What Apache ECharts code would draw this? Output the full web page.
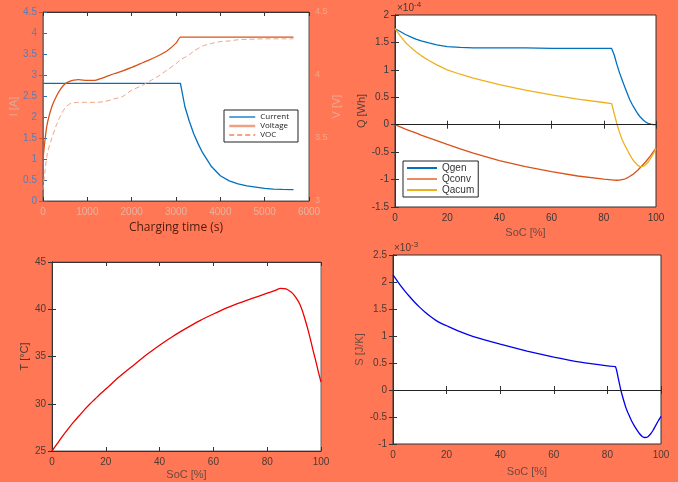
<!DOCTYPE html>
<html><head><meta charset="utf-8">
<script src="https://cdn.jsdelivr.net/npm/echarts@6/dist/echarts.min.js"></script>
<style>html,body{margin:0;padding:0;background:#FF7755;}#c{width:678px;height:482px;}</style>
</head><body><div id="c"></div>
<script>
// ---- Top-left: charging profile ----
const timeS   = [0,50,100,200,300,400,500,600,700,800,1000,1200,1400,1600,1800,2000,2200,2400,2600,2800,3000,3100,3200,3300,3400,3500,3600,3800,4000,4200,4400,4600,4800,5000,5200,5400,5650];
const current = [2.8,2.8,2.8,2.8,2.8,2.8,2.8,2.8,2.8,2.8,2.8,2.8,2.8,2.8,2.8,2.8,2.8,2.8,2.8,2.8,2.8,2.8,2.25,1.9,1.6,1.36,1.15,0.82,0.6,0.48,0.41,0.36,0.33,0.3,0.285,0.275,0.27];
const voltage = [3.33,3.5,3.62,3.75,3.83,3.89,3.93,3.95,3.96,3.963,3.957,3.96,3.983,4.01,4.033,4.06,4.09,4.12,4.153,4.193,4.253,4.3,4.3,4.3,4.3,4.3,4.3,4.3,4.3,4.3,4.3,4.3,4.3,4.3,4.3,4.3,4.3];
const voc     = [3.09,3.25,3.38,3.5,3.6,3.68,3.74,3.77,3.78,3.783,3.783,3.783,3.79,3.81,3.83,3.88,3.91,3.95,3.99,4.04,4.09,4.12,4.14,4.16,4.19,4.21,4.23,4.25,4.265,4.27,4.28,4.283,4.285,4.287,4.287,4.287,4.287];

// ---- Top-right: heat (x1e-4 Wh) ----
const socQ  = [0,2,4,6,8,10,13,16,20,25,30,40,50,60,70,80,83,84,85,86,87,88,89,90,91,92,93,94,95,96,97,98,99,100];
const qgen  = [1.75,1.70,1.645,1.60,1.56,1.53,1.49,1.455,1.425,1.41,1.40,1.40,1.40,1.39,1.39,1.39,1.39,1.27,1.1,0.95,0.82,0.69,0.57,0.45,0.36,0.28,0.2,0.14,0.09,0.05,0.025,0.01,0.003,0];
const qconv = [0,-0.04,-0.08,-0.115,-0.15,-0.19,-0.24,-0.29,-0.36,-0.44,-0.52,-0.655,-0.765,-0.855,-0.935,-0.99,-1.005,-1.01,-1.012,-1.01,-1.0,-0.99,-0.97,-0.94,-0.91,-0.87,-0.83,-0.78,-0.73,-0.68,-0.62,-0.56,-0.49,-0.42];
const qacum = [1.75,1.62,1.5,1.41,1.33,1.26,1.17,1.09,1.0,0.92,0.85,0.73,0.63,0.545,0.465,0.405,0.385,0.2,0.02,-0.14,-0.27,-0.37,-0.46,-0.55,-0.63,-0.69,-0.74,-0.765,-0.76,-0.73,-0.68,-0.61,-0.53,-0.43];

// ---- Bottom-left: temperature ----
const socT = [0,2,4,6,8,10,12,14,16,18,20,25,30,35,40,45,50,55,60,65,70,75,80,83,85,87,89,90,91,92,93,94,95,96,97,98,99,100];
const temp = [25,25.8,26.6,27.35,28.05,28.7,29.35,29.95,30.5,31.05,31.55,32.85,34.0,35.15,36.2,37.15,38.0,38.8,39.5,40.15,40.7,41.2,41.7,42.0,42.2,42.15,41.8,41.5,41.1,40.6,39.9,39.0,38.0,36.9,35.7,34.6,33.4,32.3];

// ---- Bottom-right: entropy (x1e-3 J/K) ----
const socS = [0,2,4,6,8,10,12,14,16,18,20,25,30,40,50,60,70,80,83,84,85,86,87,88,89,90,91,92,93,94,95,96,97,98,99,100];
const sEnt = [2.13,1.99,1.86,1.74,1.63,1.53,1.44,1.36,1.29,1.235,1.19,1.08,0.99,0.85,0.72,0.61,0.515,0.445,0.43,0.23,0.0,-0.18,-0.34,-0.46,-0.57,-0.66,-0.74,-0.81,-0.86,-0.88,-0.87,-0.82,-0.75,-0.66,-0.57,-0.49];

const zip = (xs, ys) => xs.map((x, i) => [x, ys[i]]);
const FONT = 'Liberation Sans';
const plain = v => String(v);

function baseX(grid, min, max, interval, color, name, gap, nameStyle) {
  return {type:'value', gridIndex:grid, min, max, interval,
    name, nameLocation:'middle', nameGap:gap,
    nameTextStyle: Object.assign({color:color, fontFamily:FONT, fontSize:11}, nameStyle||{}),
    axisLine:{show:true, lineStyle:{color:'#333'}},
    axisTick:{show:true, inside:true, length:4, lineStyle:{color:'#333'}},
    axisLabel:{color:color, fontFamily:FONT, fontSize:10, margin:6, formatter:plain},
    splitLine:{show:false}};
}
function baseY(grid, min, max, interval, color, name, gap) {
  return {type:'value', gridIndex:grid, min, max, interval,
    name, nameLocation:'middle', nameGap:gap,
    nameTextStyle:{color:color, fontFamily:FONT, fontSize:11},
    axisLine:{show:true, lineStyle:{color:'#333'}},
    axisTick:{show:true, inside:true, length:4, lineStyle:{color:'#333'}},
    axisLabel:{color:color, fontFamily:FONT, fontSize:10, margin:6, formatter:plain},
    splitLine:{show:false}};
}
function dummyX(grid, min, max, interval) {
  return {type:'value', gridIndex:grid, min, max, interval, position:'top',
    axisLine:{show:true, lineStyle:{color:'#333'}},
    axisTick:{show:true, inside:true, length:4, lineStyle:{color:'#333'}},
    axisLabel:{show:false}, splitLine:{show:false}};
}
function dummyY(grid, min, max, interval) {
  return {type:'value', gridIndex:grid, min, max, interval, position:'right',
    axisLine:{show:true, lineStyle:{color:'#333'}},
    axisTick:{show:true, inside:true, length:4, lineStyle:{color:'#333'}},
    axisLabel:{show:false}, splitLine:{show:false}};
}

const labC = '#4d3a34';
const xAxes = [
  baseX(0, 0, 6000, 1000, '#e7b3a0', 'Charging time (s)', 21, {color:'#4a1c0e', fontFamily:'Open Sans', fontSize:12}),
  dummyX(0, 0, 6000, 1000),
  baseX(1, 0, 100, 20, '#3a3a3a', 'SoC [%]', 20, {color:'#6b4a40'}),
  dummyX(1, 0, 100, 20),
  baseX(2, 0, 100, 20, labC, 'SoC [%]', 18, {color:'#6b4a40'}),
  dummyX(2, 0, 100, 20),
  baseX(3, 0, 100, 20, labC, 'SoC [%]', 22, {color:'#6b4a40'}),
  dummyX(3, 0, 100, 20)
];
xAxes[0].axisLine.lineStyle.color = '#555';

const yI = baseY(0, 0, 4.5, 0.5, '#5a7eb6', 'I [A]', 20);
yI.axisLine.lineStyle.color = '#2d6db4'; yI.axisTick.lineStyle.color = '#2d6db4';
yI.nameTextStyle.color = '#e8a590';
const yV = baseY(0, 3, 4.5, 0.5, '#f2a58a', 'V [V]', 20);
yV.position = 'right';
yV.axisLine.lineStyle.color = '#d9541a'; yV.axisTick.lineStyle.color = '#d9541a';
yV.nameTextStyle.color = '#f0a88f';
yV.axisLabel.fontSize = 9;

const yAxes = [
  yI, yV,
  baseY(1, -1.5, 2, 0.5, '#3a3a3a', 'Q [Wh]', 25),
  dummyY(1, -1.5, 2, 0.5),
  baseY(2, 25, 45, 5, labC, 'T [°C]', 22),
  dummyY(2, 25, 45, 5),
  baseY(3, -1, 2.5, 0.5, labC, 'S [J/K]', 24),
  dummyY(3, -1, 2.5, 0.5)
];
yAxes[2].nameTextStyle.color = '#5a3f38';
yAxes[4].nameTextStyle.color = '#4d3a34';
yAxes[6].nameTextStyle.color = '#6b4a40';

const zeroLine = {silent:true, symbol:'none', label:{show:false},
  lineStyle:{color:'#222', type:'solid', width:1.2}, data:[{yAxis:0}]};

const option = {
  animation:false,
  backgroundColor:'#FF7755',
  grid:[
    {left:43, top:12, width:266, height:189, show:true, backgroundColor:'#fff', borderColor:'#555', borderWidth:1},
    {left:395, top:15, width:261, height:192, show:true, backgroundColor:'#fff', borderColor:'#333', borderWidth:1},
    {left:52, top:262, width:269, height:189, show:true, backgroundColor:'#fff', borderColor:'#666', borderWidth:1},
    {left:393, top:255, width:268, height:189, show:true, backgroundColor:'#fff', borderColor:'#333', borderWidth:1}
  ],
  xAxis:xAxes,
  yAxis:yAxes,
  legend:[
    {orient:'vertical', left:224, top:110, itemWidth:26, itemHeight:8, itemGap:1,
     backgroundColor:'#fff', borderColor:'#222', borderWidth:1, padding:[3,9,3,4],
     itemStyle:{opacity:0},
     textStyle:{fontFamily:'Open Sans', fontSize:8, color:'#222'},
     data:[{name:'Current', lineStyle:{color:'#5aa3dd', width:2}},
           {name:'Voltage', lineStyle:{color:'#f0a080', width:2.5}},
           {name:'VOC'}]},
    {orient:'vertical', left:403, top:161, itemWidth:30, itemHeight:8, itemGap:1,
     backgroundColor:'#fff', borderColor:'#222', borderWidth:1, padding:[2,4,2,3],
     itemStyle:{opacity:0},
     textStyle:{fontFamily:FONT, fontSize:10, color:'#333'},
     data:['Qgen', {name:'Qconv', lineStyle:{color:'#eb8a60'}}, 'Qacum']}
  ],
  graphic:[
    {type:'text', left:397, top:1, style:{text:'×10{s|-4}', rich:{s:{fontSize:8, verticalAlign:'top', padding:[0,0,6,0], fill:'#3a3a3a'}}, fill:'#3a3a3a', font:'10px Liberation Sans'}},
    {type:'text', left:394, top:241, style:{text:'×10{s|-3}', rich:{s:{fontSize:8, verticalAlign:'top', padding:[0,0,6,0], fill:'#4d3a34'}}, fill:'#4d3a34', font:'10px Liberation Sans'}}
  ],
  series:[
    {name:'Current', type:'line', xAxisIndex:0, yAxisIndex:0, data:zip(timeS,current), symbol:'none',
     lineStyle:{color:'#0072BD', width:1.3}, itemStyle:{color:'#5aa3dd'}},
    {name:'Voltage', type:'line', xAxisIndex:0, yAxisIndex:1, data:zip(timeS,voltage), symbol:'none', smooth:0.2,
     lineStyle:{color:'#D95319', width:1.3}, itemStyle:{color:'#f0a080'}},
    {name:'VOC', type:'line', xAxisIndex:0, yAxisIndex:1, data:zip(timeS,voc), symbol:'none', smooth:0.3,
     lineStyle:{color:'#f0a488', width:1, type:[5,3]}, itemStyle:{color:'#f0a488'}},

    {name:'Qgen', type:'line', xAxisIndex:2, yAxisIndex:2, data:zip(socQ,qgen), symbol:'none',
     lineStyle:{color:'#0072BD', width:1.3}, itemStyle:{color:'#0072BD'}, markLine:zeroLine},
    {name:'Qconv', type:'line', xAxisIndex:2, yAxisIndex:2, data:zip(socQ,qconv), symbol:'none',
     lineStyle:{color:'#D95319', width:1.3}, itemStyle:{color:'#D95319'}},
    {name:'Qacum', type:'line', xAxisIndex:2, yAxisIndex:2, data:zip(socQ,qacum), symbol:'none',
     lineStyle:{color:'#EDB120', width:1.3}, itemStyle:{color:'#EDB120'}},

    {name:'T', type:'line', xAxisIndex:4, yAxisIndex:4, data:zip(socT,temp), symbol:'none', smooth:0.3,
     lineStyle:{color:'#ee0000', width:1.3}},

    {name:'S', type:'line', xAxisIndex:6, yAxisIndex:6, data:zip(socS,sEnt), symbol:'none', smooth:0.15,
     lineStyle:{color:'#0000ee', width:1.3}, markLine:zeroLine}
  ]
};
const chart = echarts.init(document.getElementById('c'), null, {renderer:'canvas'});
chart.setOption(option);
</script></body></html>
